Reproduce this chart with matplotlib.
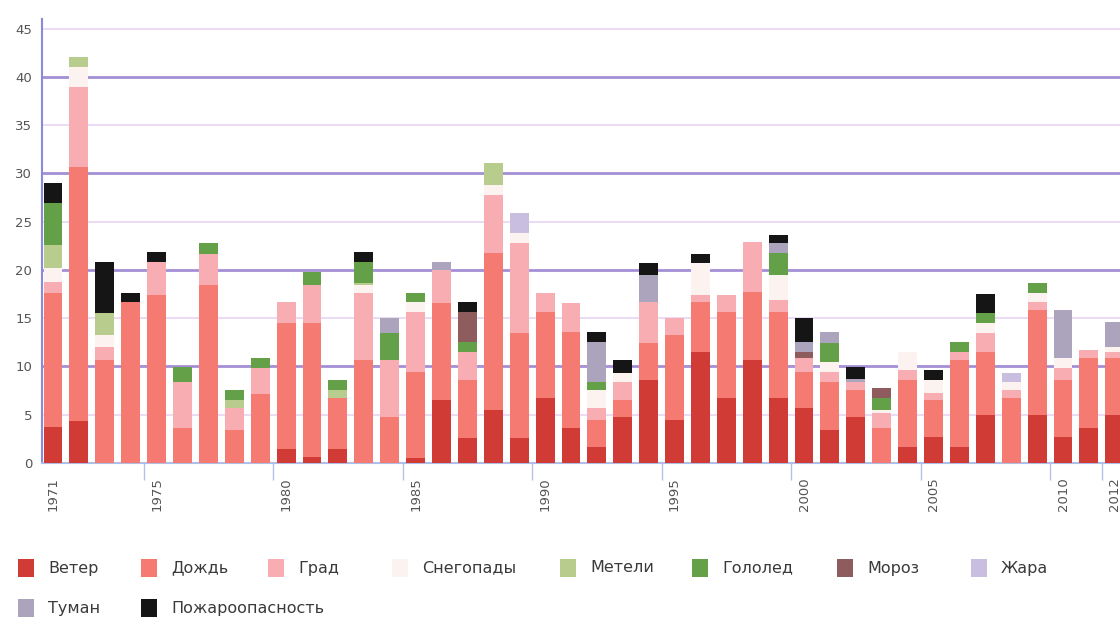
import matplotlib
matplotlib.use("Agg")
import matplotlib.pyplot as plt
from matplotlib.patches import Rectangle
import numpy as np

years = list(range(1971, 2013))
labeled_years = [1971, 1975, 1980, 1985, 1990, 1995, 2000, 2005, 2010, 2012]

categories = ["Ветер", "Дождь", "Град", "Снегопады", "Метели", "Гололед",
              "Мороз", "Жара", "Туман", "Пожароопасность"]

veter = [3.7, 4.3, 0, 0, 0, 0, 0, 0, 0, 1.5,
         0.6, 1.5, 0, 0, 0.5, 6.5, 2.6, 5.5, 2.6, 6.7,
         3.6, 1.7, 4.8, 8.6, 4.5, 11.5, 6.7, 10.7, 6.7, 5.7,
         3.4, 4.8, 0, 1.7, 2.7, 1.7, 5.0, 0, 5.0, 2.7,
         3.6, 5.0]
dozhd = [13.9, 26.4, 10.7, 16.7, 17.4, 3.6, 18.4, 3.4, 7.2, 13.0,
         13.9, 5.2, 10.7, 4.8, 8.9, 10.1, 6.0, 16.3, 10.9, 8.9,
         10.0, 2.8, 1.7, 3.8, 8.8, 5.2, 8.9, 7.0, 8.9, 3.7,
         5.0, 2.8, 3.6, 6.9, 3.8, 9.0, 6.5, 6.7, 10.9, 5.9,
         7.3, 5.9]
grad = [1.2, 8.3, 1.3, 0, 3.4, 4.8, 3.3, 2.3, 2.6, 2.2,
        3.9, 0, 6.9, 5.9, 6.2, 3.4, 2.9, 6.0, 9.3, 2.0,
        3.0, 1.2, 1.9, 4.3, 1.7, 0.7, 1.8, 5.2, 1.3, 1.5,
        1.0, 0.8, 1.6, 1.0, 0.8, 0.8, 2.0, 0.9, 0.8, 1.2,
        0.8, 0.6]
snegopady = [1.4, 2.0, 1.3, 0, 0, 0, 0, 0, 0, 0,
             0, 0, 0.8, 0, 1.1, 0, 0, 1.0, 1.0, 0,
             0, 1.9, 0.9, 0, 0, 3.3, 0, 0, 2.6, 0,
             1.1, 0, 0.3, 1.9, 1.3, 0, 1.0, 0.8, 0.9, 1.1,
             0, 0.5]
meteli = [2.4, 1.1, 2.2, 0, 0, 0, 0, 0.8, 0, 0,
          0, 0.9, 0.3, 0, 0, 0, 0, 2.3, 0, 0,
          0, 0, 0, 0, 0, 0, 0, 0, 0, 0,
          0, 0, 0, 0, 0, 0, 0, 0, 0, 0,
          0, 0]
gololed = [4.3, 0, 0, 0, 0, 1.5, 1.1, 1.1, 1.1, 0,
           1.4, 1.0, 2.1, 2.8, 0.9, 0, 1.0, 0, 0, 0,
           0, 0.8, 0, 0, 0, 0, 0, 0, 2.3, 0,
           1.9, 0, 1.2, 0, 0, 1.0, 1.0, 0, 1.0, 0,
           0, 0]
moroz = [0, 0, 0, 0, 0, 0, 0, 0, 0, 0,
         0, 0, 0, 0, 0, 0, 3.1, 0, 0, 0,
         0, 0, 0, 0, 0, 0, 0, 0, 0, 0.6,
         0, 0, 1.1, 0, 0, 0, 0, 0, 0, 0,
         0, 0]
zhara = [0, 0, 0, 0, 0, 0, 0, 0, 0, 0,
         0, 0, 0, 0, 0, 0, 0, 0, 2.1, 0,
         0, 0, 0, 0, 0, 0, 0, 0, 0, 0,
         0, 0, 0, 0, 0, 0, 0, 0.9, 0, 0,
         0, 0]
tuman = [0, 0, 0, 0, 0, 0, 0, 0, 0, 0,
         0, 0, 0, 1.5, 0, 0.8, 0, 0, 0, 0,
         0, 4.1, 0, 2.8, 0, 0, 0, 0, 1.0, 1.0,
         1.2, 0.3, 0, 0, 0, 0, 0, 0, 0, 5.0,
         0, 2.6]
pozhar = [2.1, 0, 5.3, 0.9, 1.1, 0, 0, 0, 0, 0,
          0, 0, 1.1, 0, 0, 0, 1.1, 0, 0, 0,
          0, 1.1, 1.4, 1.2, 0, 1.0, 0, 0, 0.8, 2.5,
          0, 1.2, 0, 0, 1.0, 0, 2.0, 0, 0, 0,
          0, 0]

series = [veter, dozhd, grad, snegopady, meteli, gololed, moroz, zhara, tuman, pozhar]
colors = ["#d13b36", "#f47a72", "#f8adb3", "#fcf2f0", "#b8cc8e", "#64a048",
          "#8e5c5c", "#c9bde0", "#aba4bc", "#151515"]

W, H = 1120, 626
fig = plt.figure(figsize=(W / 100, H / 100), dpi=100)
ax = fig.add_axes([42 / W, 163 / H, 1078 / W, 444 / H])

x = np.arange(len(years))
bottom = np.zeros(len(years))
for vals, col, name in zip(series, colors, categories):
    v = np.array(vals, dtype=float)
    ax.bar(x, v, bottom=bottom, width=0.73, color=col, label=name,
           linewidth=0, zorder=3)
    bottom += v

ax.set_xlim(-0.425, 41.2)
ax.set_ylim(0, 46)

# grid lines
for yv in range(5, 50, 5):
    if yv % 10 == 0:
        ax.axhline(yv, color="#a38fd6", lw=2.0, zorder=1)
    else:
        ax.axhline(yv, color="#e8d4f2", lw=1.2, zorder=1)

ax.set_yticks(range(0, 50, 5))
ax.set_yticklabels([str(v) for v in range(0, 50, 5)], fontsize=9.5, color="#555555")
ax.tick_params(axis="y", length=0, pad=7)

idx = [years.index(y) for y in labeled_years]
ax.set_xticks(idx)
ax.set_xticklabels([str(y) for y in labeled_years], rotation=90,
                   fontsize=9.5, color="#555555")
ax.tick_params(axis="x", which="major", length=0, pad=10)
ax.set_xticks([i - 0.5 for i in idx if i > 0], minor=True)
ax.tick_params(axis="x", which="minor", length=12, width=1, color="#b8c0e6")

for s in ["top", "right"]:
    ax.spines[s].set_visible(False)
ax.spines["left"].set_color("#8a8ad8")
ax.spines["left"].set_linewidth(1.5)
ax.spines["bottom"].set_color("#b0bfe8")
ax.spines["bottom"].set_linewidth(1.5)

# legend drawn in figure pixel space
lax = fig.add_axes([0, 0, 1, 1])
lax.set_xlim(0, W)
lax.set_ylim(H, 0)
lax.axis("off")
legend_pos = [(18, 568), (141, 568), (268, 568), (392, 568), (560, 568),
              (692, 568), (837, 568), (971, 568), (18, 608), (141, 608)]
for (lx, ly), col, name in zip(legend_pos, colors, categories):
    lax.add_patch(Rectangle((lx, ly - 9), 16, 18, color=col, lw=0))
    lax.text(lx + 30, ly, name, fontsize=11.5, color="#3a3a3a",
             va="center", ha="left")

fig.savefig("out.png", dpi=100)
